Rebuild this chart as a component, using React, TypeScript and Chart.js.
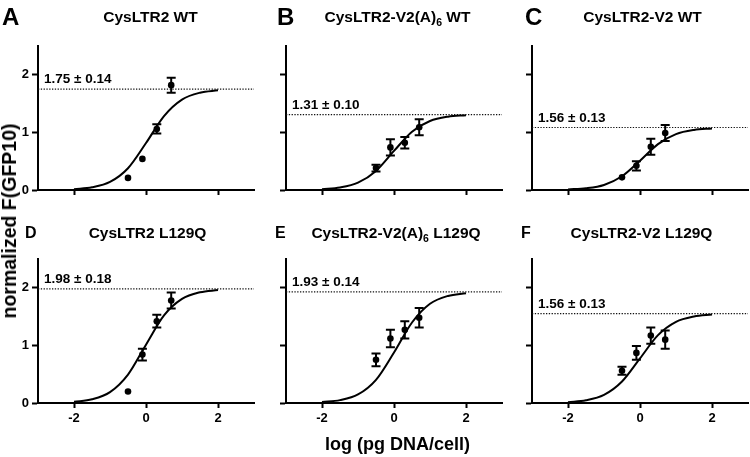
import React, { useEffect, useRef } from "react";
import { Chart, registerables } from "chart.js";
Chart.register(...registerables);

const FONT = '"Liberation Sans", Arial, Helvetica, sans-serif';

// shared axes
const fitX = [-2, -1.5, -1, -0.5, 0, 0.5, 1, 1.5, 2];
const doseX = [-0.5, -0.1, 0.3, 0.7];
const xTicks = [-2, 0, 2];
const yTicks = [0, 1, 2];

// A: CysLTR2 WT
const fitA = [0.015, 0.047, 0.14, 0.378, 0.815, 1.284, 1.57, 1.689, 1.73];
const meanA = [0.21, 0.54, 1.06, 1.82];
const errA = [0, 0, 0.08, 0.13];
const topA = 1.75;
const labelA = "1.75 ± 0.14";

// B: CysLTR2-V2(A)6 WT
const fitB = [0.014, 0.043, 0.127, 0.332, 0.678, 1.012, 1.198, 1.273, 1.298];
const meanB = [0.38, 0.74, 0.82, 1.09];
const errB = [0.06, 0.14, 0.1, 0.14];
const topB = 1.31;
const labelB = "1.31 ± 0.10";

// C: CysLTR2-V2 WT
const fitC = [0.01, 0.03, 0.088, 0.238, 0.509, 0.797, 0.971, 1.043, 1.068];
const meanC = [0.22, 0.42, 0.75, 0.99];
const errC = [0, 0.08, 0.14, 0.14];
const topC = 1.085;
const labelC = "1.56 ± 0.13";

// D: CysLTR2 L129Q
const fitD = [0.021, 0.064, 0.188, 0.493, 1.013, 1.521, 1.807, 1.922, 1.961];
const meanD = [0.2, 0.84, 1.42, 1.78];
const errD = [0, 0.1, 0.11, 0.14];
const topD = 1.98;
const labelD = "1.98 ± 0.18";

// E: CysLTR2-V2(A)6 L129Q
const fitE = [0.016, 0.05, 0.148, 0.402, 0.877, 1.398, 1.723, 1.859, 1.907];
const meanE = [0.75, 1.12, 1.27, 1.48];
const errE = [0.11, 0.15, 0.15, 0.17];
const topE = 1.93;
const labelE = "1.93 ± 0.14";

// F: CysLTR2-V2 L129Q
const fitF = [0.015, 0.048, 0.141, 0.373, 0.775, 1.178, 1.409, 1.502, 1.535];
const meanF = [0.56, 0.87, 1.17, 1.1];
const errF = [0.07, 0.12, 0.14, 0.16];
const topF = 1.55;
const labelF = "1.56 ± 0.13";

type TitlePart = { t: string; sub?: boolean };
type PanelDef = {
  letter: string;
  title: TitlePart[];
  col: number;
  row: number;
  fit: number[];
  mean: number[];
  err: number[];
  top: number;
  label: string;
};

const panels: PanelDef[] = [
  { letter: "A", title: [{ t: "CysLTR2 WT" }], col: 0, row: 0, fit: fitA, mean: meanA, err: errA, top: topA, label: labelA },
  { letter: "B", title: [{ t: "CysLTR2-V2(A)" }, { t: "6", sub: true }, { t: " WT" }], col: 1, row: 0, fit: fitB, mean: meanB, err: errB, top: topB, label: labelB },
  { letter: "C", title: [{ t: "CysLTR2-V2 WT" }], col: 2, row: 0, fit: fitC, mean: meanC, err: errC, top: topC, label: labelC },
  { letter: "D", title: [{ t: "CysLTR2 L129Q" }], col: 0, row: 1, fit: fitD, mean: meanD, err: errD, top: topD, label: labelD },
  { letter: "E", title: [{ t: "CysLTR2-V2(A)" }, { t: "6", sub: true }, { t: " L129Q" }], col: 1, row: 1, fit: fitE, mean: meanE, err: errE, top: topE, label: labelE },
  { letter: "F", title: [{ t: "CysLTR2-V2 L129Q" }], col: 2, row: 1, fit: fitF, mean: meanF, err: errF, top: topF, label: labelF },
];

// layout (page pixels)
const canvasLeft = [0, 248, 494];
const canvasTop = [0, 220];
const canvasW = 258;
const canvasH = [230, 223];
const padTop = [46, 39];
const letterX = [[2, 277, 525], [25, 275, 521]];
const letterSize = [24, 16];
const letterBase = [25, 238];
const titleCenter = [[150.5, 397.5, 642.5], [147.5, 396, 641.5]];
const titleBase = [21.5, 237.5];
const TITLE_SIZE = 15.5;
const SUB_SIZE = 10.5;

function Panel({ p }: { p: PanelDef }) {
  const ref = useRef<HTMLCanvasElement | null>(null);
  useEffect(() => {
    const cv = ref.current;
    if (!cv) return;
    const cl = canvasLeft[p.col];
    const ct = canvasTop[p.row];

    const decor = {
      id: "decor" + p.letter,
      afterDatasetsDraw(chart: any) {
        const ctx = chart.ctx;
        const xs = chart.scales.x;
        const ys = chart.scales.y;
        ctx.save();
        ctx.strokeStyle = "#000";
        ctx.lineWidth = 2;
        for (let i = 0; i < doseX.length; i++) {
          const e = p.err[i];
          if (!e) continue;
          const x = xs.getPixelForValue(doseX[i]);
          const y1 = ys.getPixelForValue(p.mean[i] - e);
          const y2 = ys.getPixelForValue(p.mean[i] + e);
          ctx.beginPath();
          ctx.moveTo(x, y1);
          ctx.lineTo(x, y2);
          ctx.moveTo(x - 4.5, y1);
          ctx.lineTo(x + 4.5, y1);
          ctx.moveTo(x - 4.5, y2);
          ctx.lineTo(x + 4.5, y2);
          ctx.stroke();
        }
        ctx.restore();
      },
      afterDraw(chart: any) {
        const ctx = chart.ctx;
        const ys = chart.scales.y;
        ctx.save();
        ctx.fillStyle = "#000";
        ctx.textBaseline = "alphabetic";
        ctx.textAlign = "left";
        // panel letter
        ctx.font = `bold ${letterSize[p.row]}px ${FONT}`;
        ctx.fillText(p.letter, letterX[p.row][p.col] - cl, letterBase[p.row] - ct);
        // title
        let w = 0;
        for (const part of p.title) {
          ctx.font = `bold ${part.sub ? SUB_SIZE : TITLE_SIZE}px ${FONT}`;
          w += ctx.measureText(part.t).width;
        }
        let x = titleCenter[p.row][p.col] - cl - w / 2;
        const by = titleBase[p.row] - ct;
        for (const part of p.title) {
          ctx.font = `bold ${part.sub ? SUB_SIZE : TITLE_SIZE}px ${FONT}`;
          ctx.fillText(part.t, x, part.sub ? by + 4.5 : by);
          x += ctx.measureText(part.t).width;
        }
        // plateau label
        ctx.font = `bold 13.5px ${FONT}`;
        ctx.fillText(p.label, chart.chartArea.left + 6, ys.getPixelForValue(p.top) - 6);
        ctx.restore();
      },
    };

    const tickFont = { family: FONT, size: 13, weight: "bold" as const };
    const chart = new Chart(cv, {
      type: "line",
      data: {
        datasets: [
          {
            data: [
              { x: -3, y: p.top },
              { x: 3, y: p.top },
            ],
            borderColor: "#111",
            borderWidth: 1.2,
            borderDash: [1.3, 1.5],
            pointRadius: 0,
          },
          {
            data: fitX.map((x, i) => ({ x, y: p.fit[i] })),
            borderColor: "#000",
            borderWidth: 2,
            cubicInterpolationMode: "monotone",
            pointRadius: 0,
          },
          {
            data: doseX.map((x, i) => ({ x, y: p.mean[i] })),
            showLine: false,
            pointRadius: 3.3,
            pointBackgroundColor: "#000",
            pointBorderColor: "#000",
            pointBorderWidth: 0,
          },
        ],
      },
      options: {
        animation: false,
        responsive: false,
        devicePixelRatio: 1,
        layout: { padding: { top: padTop[p.row], right: 2, left: 0, bottom: 0 } },
        plugins: { legend: { display: false }, tooltip: { enabled: false }, title: { display: false } },
        scales: {
          x: {
            type: "linear",
            min: -3,
            max: 3,
            afterBuildTicks: (s: any) => {
              s.ticks = xTicks.map((v) => ({ value: v }));
            },
            afterFit: (s: any) => {
              s.height = 40;
            },
            grid: { drawOnChartArea: false, drawTicks: true, tickLength: 5, tickWidth: 2, tickColor: "#000", color: "#000" },
            border: { display: true, color: "#000", width: 2 },
            ticks: { display: p.row === 1, color: "#000", font: tickFont, padding: 3, maxRotation: 0, autoSkip: false },
          },
          y: {
            type: "linear",
            min: 0,
            max: 2.5,
            afterBuildTicks: (s: any) => {
              s.ticks = yTicks.map((v) => ({ value: v }));
            },
            afterFit: (s: any) => {
              s.width = 38;
            },
            grid: { drawOnChartArea: false, drawTicks: true, tickLength: 6, tickWidth: 2, tickColor: "#000", color: "#000" },
            border: { display: true, color: "#000", width: 2 },
            ticks: { display: p.col === 0, color: "#000", font: tickFont, padding: 3, autoSkip: false },
          },
        },
      },
      plugins: [decor],
    } as any);
    return () => chart.destroy();
  }, [p]);

  return (
    <canvas
      ref={ref}
      width={canvasW}
      height={canvasH[p.row]}
      style={{
        position: "absolute",
        left: canvasLeft[p.col],
        top: canvasTop[p.row],
        width: canvasW,
        height: canvasH[p.row],
      }}
    />
  );
}

export default function App() {
  return (
    <div
      style={{
        position: "fixed",
        left: 0,
        top: 0,
        width: 750,
        height: 457,
        overflow: "hidden",
        background: "#fff",
      }}
    >
      {panels.map((p) => (
        <Panel key={p.letter} p={p} />
      ))}
      <div
        style={{
          position: "absolute",
          left: 9,
          top: 221,
          transform: "translate(-50%, -50%) rotate(-90deg)",
          whiteSpace: "nowrap",
          font: `bold 19.5px ${FONT}`,
          lineHeight: "20px",
          color: "#000",
        }}
      >
        normalized F(GFP10)
      </div>
      <div
        style={{
          position: "absolute",
          left: 397.5,
          top: 444,
          transform: "translate(-50%, -50%)",
          whiteSpace: "nowrap",
          font: `bold 18px ${FONT}`,
          lineHeight: "18px",
          color: "#000",
        }}
      >
        log (pg DNA/cell)
      </div>
    </div>
  );
}
